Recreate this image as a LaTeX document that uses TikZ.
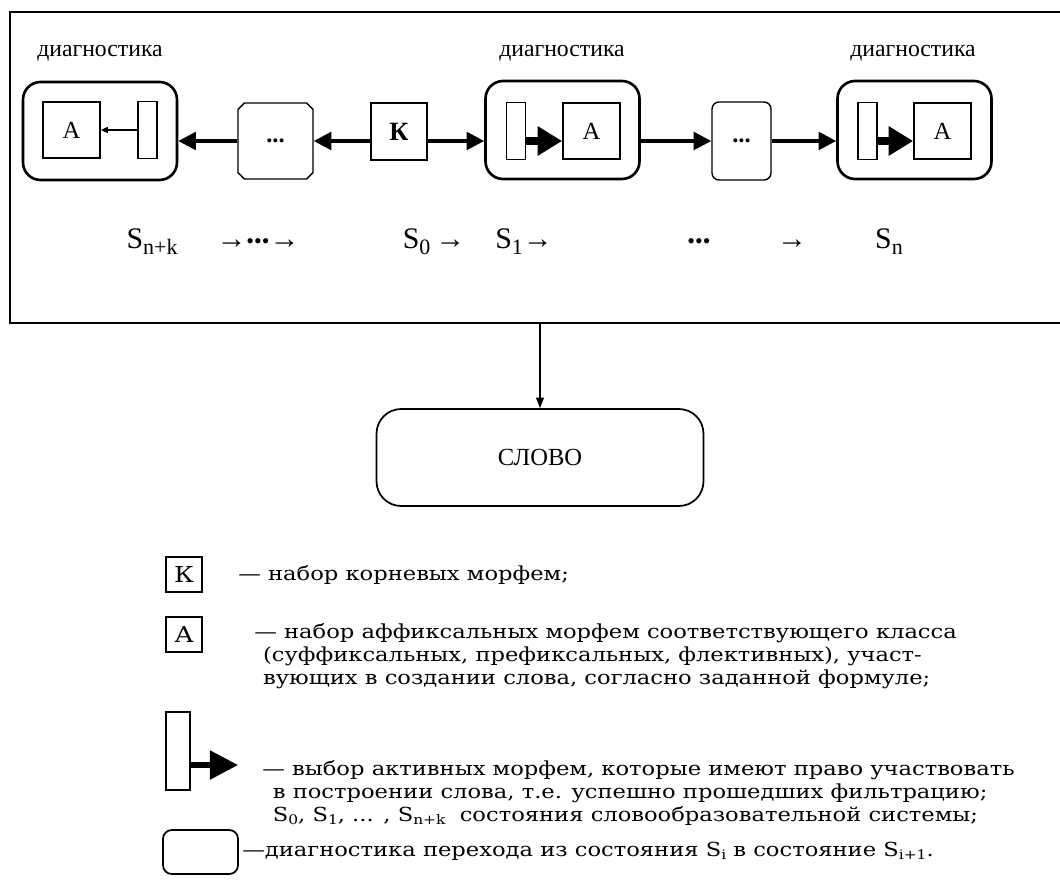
\documentclass[tikz,border=0pt]{standalone}
\usepackage{fontspec}
\setmainfont{Liberation Serif}
\newfontfamily\legendfont[FakeStretch=1.17]{DejaVu Serif}
\usetikzlibrary{arrows.meta,positioning,shapes.misc}

\newcommand{\statesub}[1]{\raisebox{-0.45ex}{\fontsize{12.5}{14}\selectfont #1}}
\newcommand{\lgsub}[1]{\raisebox{-0.35ex}{\fontsize{7.5}{9}\selectfont #1}}

\tikzset{
  frame/.style={draw, line width=1pt, inner sep=0pt, minimum width=21.2cm, minimum height=6.22cm},
  diagbox/.style={draw, line width=1.5pt, rounded corners=10pt, minimum width=3.08cm, minimum height=1.96cm},
  setbox/.style={draw, line width=1pt, inner sep=0pt, minimum width=1.14cm, minimum height=1.13cm, font=\fontsize{14}{16}\selectfont},
  barbox/.style={draw, line width=1pt, inner sep=0pt, minimum width=0.38cm, minimum height=1.14cm},
  rootbox/.style={draw, line width=1pt, inner sep=0pt, minimum width=1.12cm, minimum height=1.14cm, font=\fontsize{15}{17}\selectfont\bfseries},
  dotsbox/.style={draw, line width=0.8pt, inner sep=0pt, font=\fontsize{14}{16}\selectfont\bfseries},
  label/.style={font=\fontsize{13.5}{15}\selectfont},
  statelbl/.style={font=\fontsize{17}{19}\selectfont, inner sep=0pt},
  wordbox/.style={draw, line width=1pt, rounded corners=14pt, minimum width=6.54cm, minimum height=1.94cm, font=\fontsize{14}{16}\selectfont},
  flow/.style={line width=2pt, -{Triangle[length=10pt,width=10pt]}},
  pick/.style={line width=4pt, -{Triangle[length=14pt,width=16pt]}},
  thin pick/.style={line width=0.6pt, -{Triangle[length=4pt,width=3.5pt]}},
  link/.style={line width=0.8pt, -{Triangle[length=6pt,width=4.5pt]}},
  lgbox/.style={draw, line width=1pt, inner sep=0pt, minimum width=0.72cm, minimum height=0.7cm, font=\legendfont\fontsize{12.5}{14}\selectfont},
  lgtext/.style={anchor=west, inner sep=0pt, align=left, font=\legendfont\fontsize{11}{12.9}\selectfont}
}

\begin{document}
\begin{tikzpicture}[x=0.02cm, y=-0.02cm]
  \useasboundingbox (0,0) rectangle (1060,879);

  % outer frame
  \node[frame] (frame) at (540,167.5) {};

  % diagnostic blocks
  \node[diagbox] (diag1) at (100,131) {};
  \node[setbox] (A1) at (71.5,130) {А};
  \node[barbox] (bar1) at (147.5,130) {};
  \node[diagbox] (diag2) at (562.5,130) {};
  \node[barbox] (bar2) at (516,131) {};
  \node[setbox] (A2) at (591.5,131) {А};
  \node[diagbox] (diag3) at (914.5,130) {};
  \node[barbox] (bar3) at (867.5,131) {};
  \node[setbox] (A3) at (942.5,131) {А};

  \node[label] at (100,53) {диагностика};
  \node[label] at (562,53) {диагностика};
  \node[label] at (913,53) {диагностика};

  % root set and intermediate states
  \node[rootbox] (K) at (399,131.5) {К};
  \node[dotsbox, chamfered rectangle, chamfered rectangle xsep=2.5pt, chamfered rectangle ysep=2.5pt,
        minimum width=1.5cm, minimum height=1.52cm] (dots1) at (275.5,141) {...};
  \node[dotsbox, rounded corners=4pt, minimum width=1.18cm, minimum height=1.56cm] (dots2) at (741.5,141) {...};

  % connections
  \draw[flow] (dots1.west) -- (diag1.east |- dots1.west);
  \draw[flow] (K.west |- dots1) -- (dots1.east);
  \draw[flow] (K.east |- dots1) -- (diag2.west |- dots1);
  \draw[flow] (diag2.east |- dots2) -- (dots2.west);
  \draw[flow] (dots2.east) -- (diag3.west |- dots2);
  \draw[thin pick] (bar1.west) -- (A1.east);
  \draw[pick] (bar2.east |- dots2) -- (A2.west |- dots2);
  \draw[pick] (bar3.east |- dots2) -- (A3.west |- dots2);

  % states
  \node[statelbl] (sNk) at (152,242) {S\statesub{n+k}};
  \node[statelbl] (sback) at (258,244) {→{\fontsize{12.5}{14}\selectfont •••}→};
  \node[statelbl] (s0) at (434,242) {S\statesub{0}\,→};
  \node[statelbl] (s1) at (524,242) {S\statesub{1}→};
  \node[statelbl, font=\fontsize{12.5}{14}\selectfont] (smid) at (699,244) {•••};
  \node[statelbl] (sarr) at (792,244) {→};
  \node[statelbl] (sn) at (889,242) {S\statesub{n}};

  % result
  \node[wordbox] (word) at (540,457.5) {СЛОВО};
  \draw[link] (frame.south) -- (word.north);

  % legend
  \node[lgbox] (lgK) at (184,574.5) {К};
  \node[lgtext] (lgKtext) at (238,575) {— набор корневых морфем;};
  \node[lgbox] (lgA) at (184,634.5) {А};
  \node[lgtext] (lgAtext) at (254,656) {— набор аффиксальных морфем соответствующего класса\\
    \hspace*{5pt}(суффиксальных, префиксальных, флективных), участ-\\
    \hspace*{5pt}вующих в создании слова, согласно заданной формуле;};
  \node[barbox, minimum width=0.48cm, minimum height=1.56cm] (lgbar) at (178,751) {};
  \coordinate (lgtip) at (238,765);
  \draw[line width=3pt, -{Triangle[length=16pt,width=16pt]}] (lgbar.east |- lgtip) -- (lgtip);
  \node[lgtext] (lgbartext) at (262,793) {— выбор активных морфем, которые имеют право участвовать\\
    \hspace*{6pt}в построении слова, т.е. успешно прошедших фильтрацию;\\
    \hspace*{6pt}S\lgsub{0}, S\lgsub{1}, ... , S\lgsub{n+k}\ \ состояния словообразовательной системы;};
  \node[draw, line width=1pt, rounded corners=5pt, minimum width=1.5cm, minimum height=0.88cm] (lgdiag) at (200.5,852) {};
  \node[lgtext] (lgdiagtext) at (242,851) {—диагностика перехода из состояния S\lgsub{i} в состояние S\lgsub{i+1}.};
\end{tikzpicture}
\end{document}
